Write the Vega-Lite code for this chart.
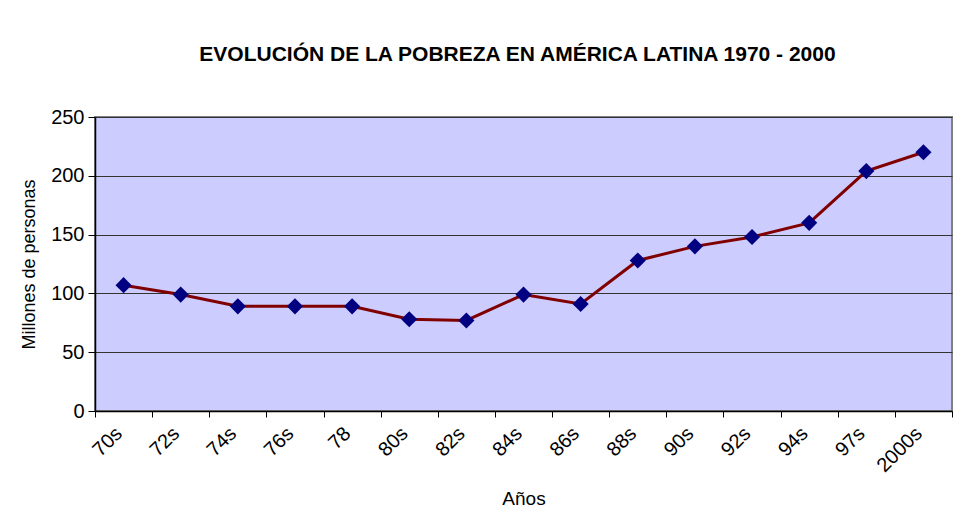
{
  "$schema": "https://vega.github.io/schema/vega-lite/v6.json",
  "autosize": "none",
  "width": 857,
  "height": 294,
  "padding": {"left": 95, "top": 117, "right": 10, "bottom": 104},
  "background": "white",
  "title": {
    "text": "EVOLUCIÓN DE LA POBREZA EN AMÉRICA LATINA 1970 - 2000",
    "font": "Liberation Sans",
    "fontSize": 21,
    "fontWeight": "bold",
    "color": "black",
    "anchor": "middle",
    "offset": 42,
    "dx": -6
  },
  "config": {
    "view": {"fill": "#CCCCFF", "stroke": "#808080", "strokeWidth": 2},
    "axis": {
      "labelFont": "Liberation Sans",
      "titleFont": "Liberation Sans",
      "labelColor": "black",
      "titleColor": "black",
      "domainColor": "black",
      "tickColor": "black",
      "titleFontWeight": "normal"
    }
  },
  "data": {
    "values": [
      {"periodo": "70s", "millones": 107},
      {"periodo": "72s", "millones": 99},
      {"periodo": "74s", "millones": 89},
      {"periodo": "76s", "millones": 89},
      {"periodo": "78", "millones": 89},
      {"periodo": "80s", "millones": 78},
      {"periodo": "82s", "millones": 77},
      {"periodo": "84s", "millones": 99},
      {"periodo": "86s", "millones": 91},
      {"periodo": "88s", "millones": 128},
      {"periodo": "90s", "millones": 140},
      {"periodo": "92s", "millones": 148},
      {"periodo": "94s", "millones": 160},
      {"periodo": "97s", "millones": 204},
      {"periodo": "2000s", "millones": 220}
    ]
  },
  "encoding": {
    "x": {
      "field": "periodo",
      "type": "ordinal",
      "sort": null,
      "scale": {"paddingInner": 0, "paddingOuter": 0},
      "axis": {
        "title": "Años",
        "titleFontSize": 19,
        "titlePadding": 14,
        "labelAngle": -45,
        "labelFontSize": 20,
        "labelPadding": 6,
        "labelOffset": -12,
        "tickBand": "extent",
        "tickSize": 6,
        "domainWidth": 1.5,
        "grid": false
      }
    },
    "y": {
      "field": "millones",
      "type": "quantitative",
      "scale": {"domain": [0, 250], "nice": false},
      "axis": {
        "title": "Millones de personas",
        "titleFontSize": 18,
        "titlePadding": 12,
        "values": [0, 50, 100, 150, 200, 250],
        "labelFontSize": 20,
        "labelPadding": 4,
        "tickSize": 7,
        "domainWidth": 1.5,
        "gridColor": "#333333",
        "gridWidth": 1
      }
    }
  },
  "layer": [
    {"mark": {"type": "line", "color": "#800000", "strokeWidth": 3}},
    {"mark": {"type": "point", "shape": "diamond", "filled": true, "color": "#000080", "opacity": 1, "size": 260}}
  ]
}
